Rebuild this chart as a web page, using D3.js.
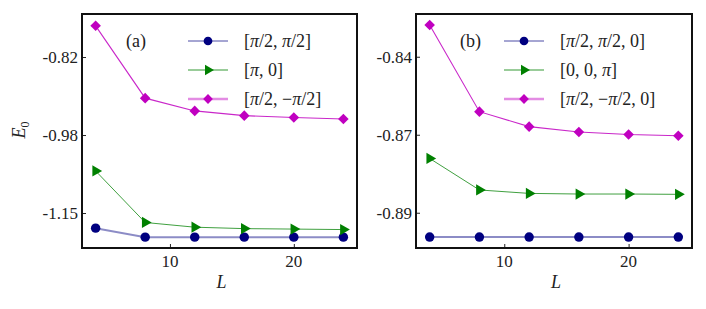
<!DOCTYPE html>
<html>
<head>
<meta charset="utf-8">
<script src="https://cdn.jsdelivr.net/npm/d3@7"></script>
<style>
  body { margin: 0; background: #fff; }
</style>
</head>
<body>
<svg id="chart" width="706" height="309" font-family="'Liberation Serif', 'DejaVu Serif', serif"></svg>
<script>
// system sizes
const sizesL = [4, 8, 12, 16, 20, 24];

// panel (a)
const aBlue  = [-1.177, -1.196, -1.196, -1.196, -1.196, -1.196];
const aGreen = [-1.056, -1.165, -1.175, -1.178, -1.179, -1.180];
const aPink  = [-0.749, -0.902, -0.929, -0.939, -0.943, -0.946];
const aTicks = [-0.815, -0.98, -1.145];
const aTickLabels = ["-0.82", "-0.98", "-1.15"];
const aLegend = [["[", "π", "/2, ", "π", "/2]"], ["[", "π", ", 0]"], ["[", "π", "/2, −", "π", "/2]"]];

// panel (b)
const bBlue  = [-0.8978, -0.8978, -0.8978, -0.8978, -0.8978, -0.8978];
const bGreen = [-0.8726, -0.8827, -0.8838, -0.8840, -0.8840, -0.8841];
const bPink  = [-0.8298, -0.8576, -0.8624, -0.8641, -0.8649, -0.8653];
const bTicks = [-0.84, -0.865, -0.89];
const bTickLabels = ["-0.84", "-0.87", "-0.89"];
const bLegend = [["[", "π", "/2, ", "π", "/2, 0]"], ["[0, 0, ", "π", "]"], ["[", "π", "/2, −", "π", "/2, 0]"]];

const xTicks = [10, 20];

const svg = d3.select("#chart");
const FONT = "'Liberation Serif', 'DejaVu Serif', serif";

const styles = [
  {color: "#000080", line: {w: 2, op: 0.45}, leg: {w: 1, op: 0.7}, sym: d3.symbolCircle, size: 70, rot: 0},
  {color: "#008000", line: {w: 1, op: 0.75}, leg: {w: 1, op: 0.8}, sym: d3.symbolTriangle, size: 55, rot: 90},
  {color: "#c000c0", line: {w: 1.1, op: 0.85}, leg: {w: 2.5, op: 0.45}, sym: d3.symbolSquare, size: 56, rot: 45}
];

function addText(sel){
  return sel.append("text").attr("font-family", FONT).attr("fill", "#222");
}

function drawPanel(opt){
  const g = svg.append("g");
  const x = d3.scaleLinear().domain([2.9, 25.1]).range([opt.left, opt.right]);
  const y = d3.scaleLinear().domain(opt.ydom).range([248, 14]);

  // axes, ticks pointing inward
  const xAxis = d3.axisTop(x).tickValues(xTicks).tickSize(4).tickFormat("");
  g.append("g").attr("transform", "translate(0,248)").call(xAxis)
    .call(s => s.select(".domain").remove());
  xTicks.forEach(d => {
    addText(g).attr("x", x(d)).attr("y", 267)
      .attr("text-anchor", "middle").attr("font-size", 17).text(d);
  });

  const yAxis = d3.axisRight(y).tickValues(opt.ticks).tickSize(4).tickFormat("");
  g.append("g").attr("transform", "translate(" + opt.left + ",0)").call(yAxis)
    .call(s => s.select(".domain").remove());
  opt.ticks.forEach((d, i) => {
    addText(g).attr("x", opt.left - 4).attr("y", y(d) + 6)
      .attr("text-anchor", "end").attr("font-size", 17).text(opt.tickLabels[i]);
  });
  g.selectAll(".tick line").attr("stroke", "#222");

  // series
  opt.series.forEach((vals, k) => {
    const st = styles[k];
    const pts = sizesL.map((L, i) => [L, vals[i]]);
    g.append("path")
      .attr("d", d3.line().x(d => x(d[0])).y(d => y(d[1]))(pts))
      .attr("fill", "none").attr("stroke", st.color)
      .attr("stroke-width", st.line.w).attr("stroke-opacity", st.line.op);
    g.selectAll(null).data(pts).enter().append("path")
      .attr("d", d3.symbol().type(st.sym).size(st.size))
      .attr("transform", d => "translate(" + x(d[0]) + "," + y(d[1]) + ") rotate(" + st.rot + ")")
      .attr("fill", st.color);
  });

  // frame
  g.append("rect")
    .attr("x", opt.left).attr("y", 14)
    .attr("width", opt.right - opt.left).attr("height", 234)
    .attr("fill", "none").attr("stroke", "#111").attr("stroke-width", 2);

  // panel tag
  addText(g).attr("x", opt.tagX).attr("y", 47).attr("font-size", 18).text(opt.tag);

  // legend
  const rows = [41, 70, 99];
  opt.legend.forEach((parts, k) => {
    const st = styles[k];
    g.append("line")
      .attr("x1", opt.legX).attr("x2", opt.legX + 40)
      .attr("y1", rows[k]).attr("y2", rows[k])
      .attr("stroke", st.color).attr("stroke-width", st.leg.w).attr("stroke-opacity", st.leg.op);
    g.append("path")
      .attr("d", d3.symbol().type(st.sym).size(st.size * 0.85))
      .attr("transform", "translate(" + (opt.legX + 20) + "," + rows[k] + ") rotate(" + st.rot + ")")
      .attr("fill", st.color);
    const t = addText(g).attr("x", opt.legX + 56).attr("y", rows[k] + 6).attr("font-size", 18);
    parts.forEach(p => {
      t.append("tspan").attr("font-style", p === "π" ? "italic" : "normal").text(p);
    });
  });

  // x label
  addText(g).attr("x", (opt.left + opt.right) / 2 + 2).attr("y", 288)
    .attr("text-anchor", "middle").attr("font-size", 18).attr("font-style", "italic").text("L");
}

drawPanel({left: 82, right: 357, ydom: [-1.219, -0.724], ticks: aTicks, tickLabels: aTickLabels,
  series: [aBlue, aGreen, aPink], legend: aLegend, legX: 188, tag: "(a)", tagX: 126});
drawPanel({left: 416, right: 692, ydom: [-0.9013, -0.8263], ticks: bTicks, tickLabels: bTickLabels,
  series: [bBlue, bGreen, bPink], legend: bLegend, legX: 504, tag: "(b)", tagX: 460});

// y label
const ylab = addText(svg).attr("transform", "translate(25,130) rotate(-90)")
  .attr("text-anchor", "middle").attr("font-size", 18);
ylab.append("tspan").attr("font-style", "italic").text("E");
ylab.append("tspan").attr("font-size", 12).attr("dy", 4).text("0");
</script>
</body>
</html>
